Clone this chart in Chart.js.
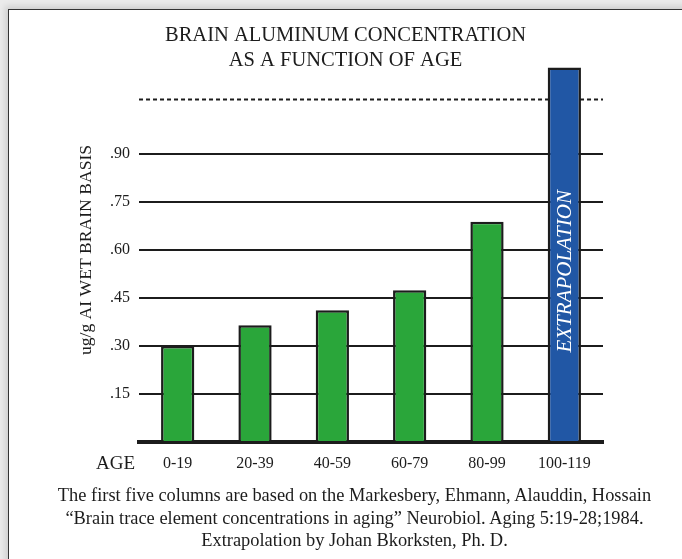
<!DOCTYPE html>
<html>
<head>
<meta charset="utf-8">
<script src="https://cdn.jsdelivr.net/npm/chart.js@4.4.1/dist/chart.umd.min.js"></script>
<style>
  html, body { margin: 0; padding: 0; background: #ebebeb; }
  #frame {
    position: absolute; left: 8px; top: 9px; width: 720px; height: 600px;
    background: #fff; border: 1px solid #333;
    box-shadow: -3px -3px 6px rgba(0,0,0,0.12);
  }
  #wrap { position: absolute; left: 0; top: 0; width: 682px; height: 559px; }
  #caption {
    position: absolute; left: 0; top: 484px; width: 709px;
    text-align: center; color: #1c1c1c;
    font: 18.4px/22.5px "Liberation Serif", "Times New Roman", serif;
  }
</style>
</head>
<body>
<div id="frame"></div>
<div id="wrap"><canvas id="myChart"></canvas></div>
<div id="caption">
  The first five columns are based on the Markesbery, Ehmann, Alauddin, Hossain<br>
  &ldquo;Brain trace element concentrations in aging&rdquo; Neurobiol. Aging 5:19-28;1984.<br>
  Extrapolation by Johan Bkorksten, Ph. D.
</div>
<script>
const ageGroups = ['0-19', '20-39', '40-59', '60-79', '80-99', '100-119'];
const aluminum = [0.30, 0.365, 0.412, 0.474, 0.688, 1.17];
const barColors = ['#2aa63a', '#2aa63a', '#2aa63a', '#2aa63a', '#2aa63a', '#2157a5'];
const dottedLevel = 1.07;
const labelledTicks = [0.15, 0.30, 0.45, 0.60, 0.75, 0.90];

const ink = '#1c1c1c';
const serif = '"Liberation Serif", "Times New Roman", serif';

const extras = {
  id: 'extras',
  beforeDatasetsDraw(chart) {
    const { ctx, chartArea } = chart;
    const y = chart.scales.y.getPixelForValue(dottedLevel);
    ctx.save();
    ctx.strokeStyle = ink;
    ctx.lineWidth = 2;
    ctx.setLineDash([4, 3]);
    ctx.beginPath();
    ctx.moveTo(chartArea.left, y);
    ctx.lineTo(chartArea.right, y);
    ctx.stroke();
    ctx.restore();
  },
  afterDatasetsDraw(chart) {
    const { ctx, chartArea } = chart;
    const bar = chart.getDatasetMeta(0).data[5];
    ctx.save();
    ctx.translate(bar.x + 1, (bar.y + bar.base) / 2 + 17);
    ctx.rotate(-Math.PI / 2);
    ctx.fillStyle = '#fff';
    ctx.font = 'italic 21px ' + serif;
    ctx.textAlign = 'center';
    ctx.textBaseline = 'middle';
    ctx.fillText('EXTRAPOLATION', 0, 0);
    ctx.restore();

    ctx.save();
    ctx.fillStyle = ink;
    ctx.font = '19px ' + serif;
    ctx.textAlign = 'right';
    ctx.textBaseline = 'middle';
    ctx.fillText('AGE', chartArea.left - 4, chartArea.bottom + 22);
    ctx.restore();
  }
};

new Chart(document.getElementById('myChart'), {
  type: 'bar',
  data: {
    labels: ageGroups,
    datasets: [{
      data: aluminum,
      backgroundColor: barColors,
      borderColor: ink,
      borderWidth: 2.5,
      borderSkipped: 'bottom',
      barPercentage: 0.43,
      categoryPercentage: 1
    }]
  },
  options: {
    responsive: true,
    maintainAspectRatio: false,
    animation: false,
    layout: { padding: { left: 88, right: 79, top: 0, bottom: 73.8 } },
    plugins: {
      legend: { display: false },
      tooltip: { enabled: false },
      title: {
        display: true,
        text: ['BRAIN ALUMINUM CONCENTRATION', 'AS A FUNCTION OF AGE'],
        color: ink,
        font: { family: serif, size: 20.5, weight: 'normal', lineHeight: 1.22 },
        padding: { top: 23, bottom: -15 }
      }
    },
    scales: {
      x: {
        grid: { display: false, drawTicks: false },
        border: { display: true, color: ink, width: 4 },
        ticks: { color: ink, padding: 12, font: { family: serif, size: 16 } }
      },
      y: {
        min: 0,
        max: 1.2,
        border: { display: false },
        grid: {
          drawTicks: false,
          lineWidth: 2,
          color: (c) => labelledTicks.some(v => Math.abs(v - c.tick.value) < 1e-6) ? ink : 'rgba(0,0,0,0)'
        },
        ticks: {
          stepSize: 0.15,
          padding: 9,
          color: ink,
          font: { family: serif, size: 16 },
          callback: (v) => labelledTicks.some(t => Math.abs(t - v) < 1e-6) ? v.toFixed(2).slice(1) : ''
        },
        title: {
          display: true,
          text: 'ug/g AI WET BRAIN BASIS',
          color: ink,
          font: { family: serif, size: 17.6 },
          padding: { top: -12.6, bottom: 4.5 }
        }
      }
    }
  },
  plugins: [extras]
});
</script>
</body>
</html>
